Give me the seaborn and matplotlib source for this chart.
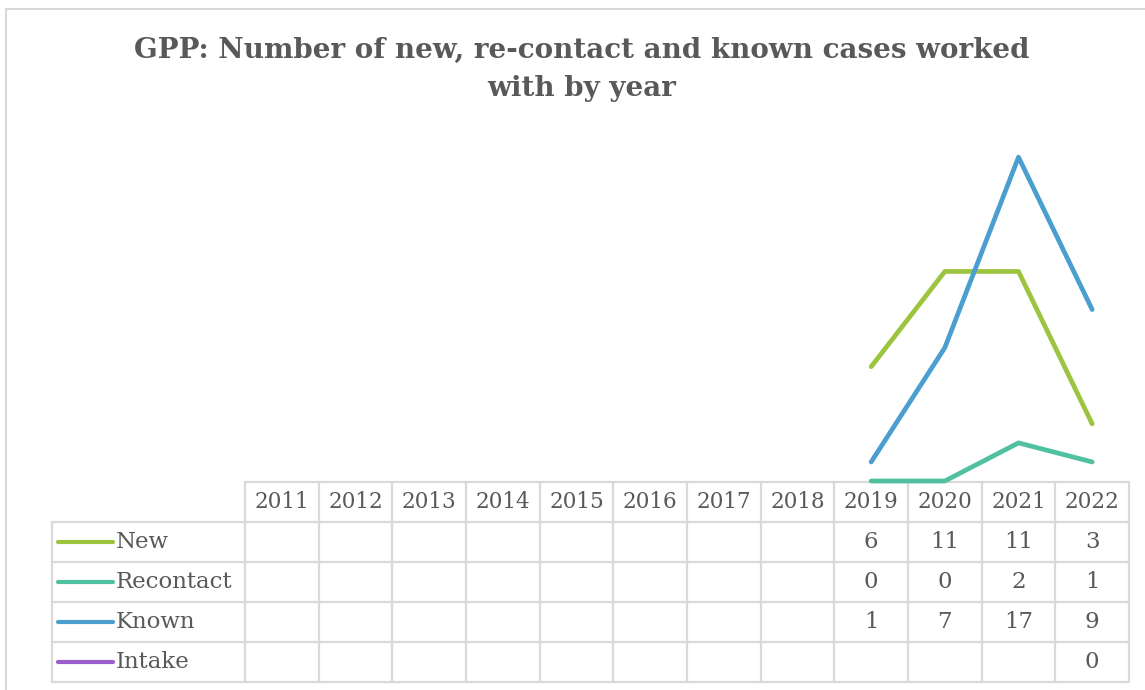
import numpy as np
import pandas as pd
import matplotlib
matplotlib.use("Agg")
import matplotlib.pyplot as plt
import seaborn as sns

# ---- data -------------------------------------------------------------
years = ["2011", "2012", "2013", "2014", "2015", "2016",
         "2017", "2018", "2019", "2020", "2021", "2022"]
new_cases = [None, None, None, None, None, None, None, None, 6, 11, 11, 3]
recontact_cases = [None, None, None, None, None, None, None, None, 0, 0, 2, 1]
known_cases = [None, None, None, None, None, None, None, None, 1, 7, 17, 9]
intake_cases = [None, None, None, None, None, None, None, None, None, None, None, 0]

series_names = ["New", "Recontact", "Known", "Intake"]
series_values = [new_cases, recontact_cases, known_cases, intake_cases]
series_colors = ["#9dc43f", "#4fc0a0", "#4b9ed0", "#9a5fcb"]

title = "GPP: Number of new, re-contact and known cases worked\nwith by year"

# ---- styling ------------------------------------------------------------
sns.set_theme(style="white")
plt.rcParams["font.family"] = ["DejaVu Serif"]
text_color = "#595959"
grid_color = "#d9d9d9"

W, H = 1145, 690
fig = plt.figure(figsize=(W / 100, H / 100), dpi=100)

def fig_rect(x0, y0, x1, y1):
    """Pixel box (top-left origin) -> figure fraction rect."""
    return [x0 / W, 1 - y1 / H, (x1 - x0) / W, (y1 - y0) / H]

# outer chart frame
fig.patches.append(plt.Rectangle((6 / W, -0.05), 1.2, 1 - 9 / H + 0.05,
                                 transform=fig.transFigure, fill=False,
                                 edgecolor=grid_color, linewidth=1.5))

# ---- plot area ----------------------------------------------------------
x_left, x_right = 245, 1129
col_w = (x_right - x_left) / len(years)
ax = fig.add_axes(fig_rect(x_left, 100, x_right, 481))
ax.set_zorder(5)
ax.patch.set_alpha(0)

df = pd.DataFrame({"year_idx": np.arange(len(years))})
for name, vals in zip(series_names, series_values):
    df[name] = pd.array(vals, dtype="Float64").astype(float)
long = df.melt(id_vars="year_idx", var_name="series", value_name="cases")

sns.lineplot(data=long, x="year_idx", y="cases", hue="series",
             hue_order=series_names, palette=series_colors,
             linewidth=3.4, legend=False, ax=ax,
             solid_capstyle="round")
for line in ax.lines:
    line.set_clip_on(False)

ax.set_xlim(-0.5, len(years) - 0.5)
ax.set_ylim(0, 20)
ax.axis("off")

fig.text(0.508, 1 - 50 / H, title.split("\n")[0], ha="center", va="center",
         fontsize=20, fontweight="bold", color=text_color)
fig.text(0.508, 1 - 88 / H, title.split("\n")[1], ha="center", va="center",
         fontsize=20, fontweight="bold", color=text_color)

# ---- data table -----------------------------------------------------------
t_left, t_top, t_bottom = 52, 482, 682
tab = fig.add_axes(fig_rect(t_left, t_top, x_right, t_bottom))
label_units = (x_left - t_left) / col_w
tab.set_xlim(-0.5 - label_units, len(years) - 0.5)
n_rows = len(series_names) + 1
tab.set_ylim(n_rows, 0)
tab.axis("off")

lw = 1.6
# header row (years only, no corner cell)
tab.plot([-0.5, len(years) - 0.5], [0, 0], color=grid_color, lw=lw, clip_on=False)
# horizontal lines under header and each row
for r in range(1, n_rows + 1):
    tab.plot([-0.5 - label_units, len(years) - 0.5], [r, r],
             color=grid_color, lw=lw, clip_on=False)
# verticals
tab.plot([-0.5 - label_units] * 2, [1, n_rows], color=grid_color, lw=lw, clip_on=False)
for c in range(len(years) + 1):
    tab.plot([c - 0.5] * 2, [0, n_rows], color=grid_color, lw=lw, clip_on=False)

for i, y in enumerate(years):
    tab.text(i, 0.5, y, ha="center", va="center", fontsize=15.5, color=text_color)

for r, (name, vals, col) in enumerate(zip(series_names, series_values, series_colors), start=1):
    x0 = -0.5 - label_units + 6 / col_w
    x1 = x0 + 55 / col_w
    tab.plot([x0, x1], [r + 0.5, r + 0.5], color=col, lw=3.0,
             solid_capstyle="round", clip_on=False)
    tab.text(x1 + 3 / col_w, r + 0.5, name, ha="left", va="center",
             fontsize=16.5, color=text_color)
    for i, v in enumerate(vals):
        if v is not None:
            tab.text(i, r + 0.5, str(v), ha="center", va="center",
                     fontsize=16.5, color=text_color)

fig.savefig("out.png", dpi=100)
